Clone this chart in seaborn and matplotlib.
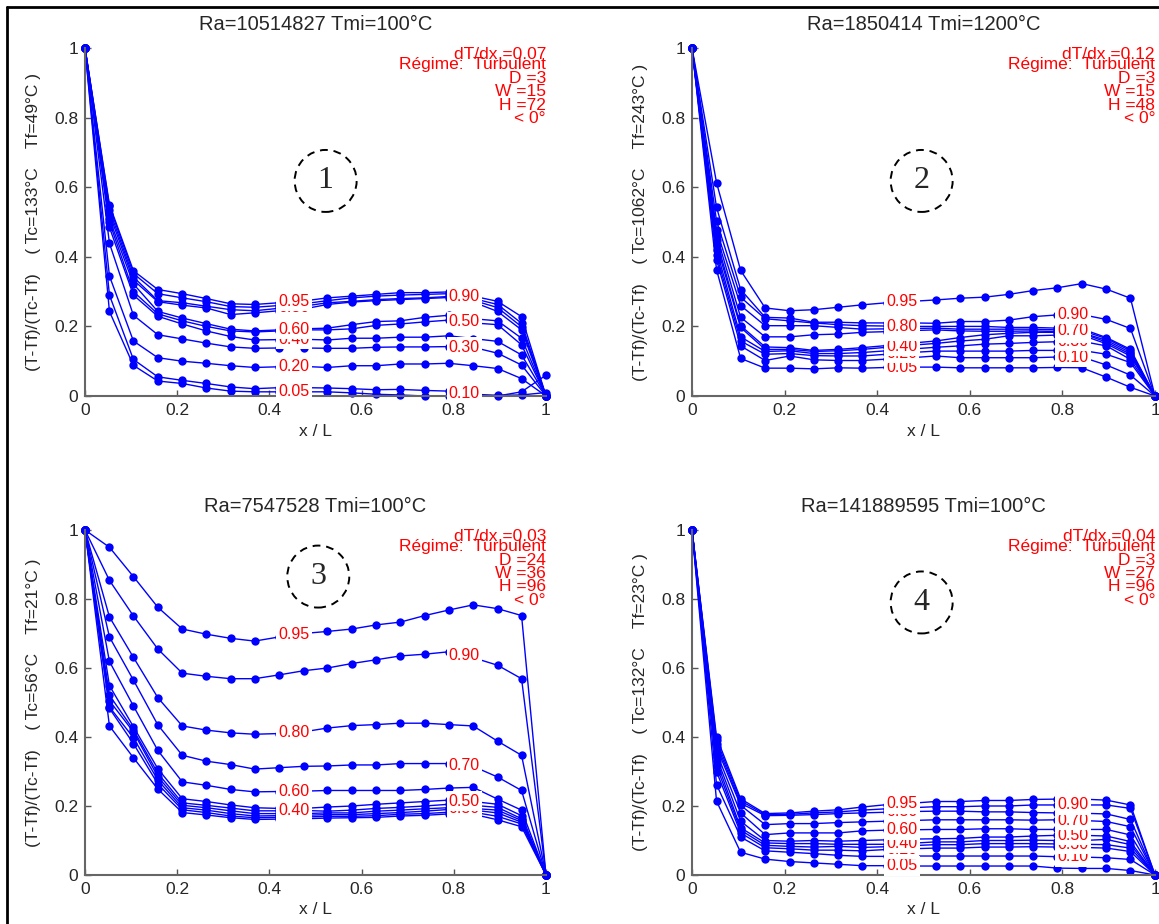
import matplotlib
matplotlib.use("Agg")
import matplotlib.pyplot as plt
from matplotlib.patches import Ellipse
from matplotlib.lines import Line2D
import numpy as np
import pandas as pd
import seaborn as sns

# x / L positions of the 20 measuring points
x_pos = [0, 0.053, 0.105, 0.158, 0.211, 0.263, 0.316, 0.368, 0.421, 0.474,
         0.526, 0.579, 0.632, 0.684, 0.737, 0.789, 0.842, 0.895, 0.947, 1.0]

# curve levels, listed top curve first (same order as the rows below)
levels = [0.95, 0.90, 0.80, 0.70, 0.60, 0.50, 0.40, 0.30, 0.20, 0.10, 0.05]
left_label_levels = [0.95, 0.80, 0.60, 0.40, 0.20, 0.05]

p1_curves = [
    [1, .550, .360, .306, .294, .280, .265, .263, .268, .273, .282, .287, .292, .297, .297, .299, .287, .272, .228, 0],
    [1, .545, .352, .294, .282, .271, .257, .255, .260, .265, .274, .282, .287, .290, .292, .294, .280, .263, .209, 0],
    [1, .535, .342, .274, .268, .258, .248, .245, .252, .258, .268, .272, .277, .280, .282, .286, .275, .254, .199, 0],
    [1, .524, .333, .271, .261, .253, .234, .239, .245, .250, .263, .270, .274, .277, .280, .283, .270, .243, .190, 0],
    [1, .509, .322, .243, .224, .208, .192, .187, .190, .193, .195, .205, .214, .216, .226, .232, .222, .216, .166, 0],
    [1, .500, .300, .236, .216, .200, .187, .184, .187, .190, .190, .193, .203, .207, .213, .218, .210, .205, .147, 0],
    [1, .485, .290, .229, .207, .187, .171, .161, .162, .163, .161, .166, .166, .169, .169, .173, .165, .157, .118, 0],
    [1, .439, .232, .176, .164, .152, .141, .137, .138, .138, .137, .137, .140, .141, .141, .142, .140, .123, .089, 0],
    [1, .345, .158, .110, .100, .094, .087, .082, .084, .085, .082, .087, .087, .092, .092, .094, .087, .079, .050, 0],
    [1, .290, .105, .055, .045, .036, .026, .021, .024, .024, .023, .021, .018, .019, .016, .014, .005, .002, .003, .010],
    [1, .243, .088, .043, .036, .023, .014, .012, .012, .012, .012, .009, .005, .003, .000, .000, .000, .000, .012, .060],
]

p2_curves = [
    [1, .613, .361, .253, .245, .248, .255, .262, .268, .272, .276, .281, .284, .292, .303, .311, .323, .307, .281, 0],
    [1, .542, .306, .226, .224, .212, .212, .210, .210, .210, .209, .214, .214, .218, .228, .233, .234, .220, .194, 0],
    [1, .503, .284, .222, .216, .210, .205, .202, .201, .200, .200, .200, .200, .197, .197, .195, .193, .168, .134, 0],
    [1, .477, .260, .202, .202, .202, .197, .192, .193, .194, .195, .192, .192, .192, .192, .190, .188, .165, .130, 0],
    [1, .463, .226, .170, .170, .176, .178, .183, .185, .188, .190, .187, .186, .186, .187, .185, .182, .160, .125, 0],
    [1, .448, .202, .141, .139, .131, .134, .139, .145, .152, .158, .168, .176, .180, .183, .183, .180, .155, .120, 0],
    [1, .434, .197, .134, .134, .128, .130, .134, .140, .146, .151, .158, .163, .173, .173, .175, .175, .150, .115, 0],
    [1, .420, .170, .128, .130, .122, .122, .125, .130, .135, .140, .144, .149, .151, .154, .156, .157, .144, .105, 0],
    [1, .405, .158, .120, .122, .116, .115, .115, .120, .125, .129, .129, .129, .129, .131, .131, .131, .120, .096, 0],
    [1, .392, .144, .102, .115, .104, .102, .102, .106, .110, .115, .110, .110, .110, .110, .112, .112, .089, .060, 0],
    [1, .363, .108, .080, .080, .078, .081, .080, .082, .083, .083, .081, .081, .081, .081, .082, .081, .054, .025, 0],
]

p3_curves = [
    [1, .950, .865, .776, .713, .698, .686, .678, .690, .700, .706, .713, .725, .733, .752, .768, .783, .772, .752, 0],
    [1, .854, .751, .655, .585, .576, .569, .569, .580, .592, .600, .613, .624, .635, .640, .647, .630, .608, .569, 0],
    [1, .748, .631, .514, .432, .420, .412, .408, .410, .415, .426, .433, .436, .440, .440, .436, .432, .388, .347, 0],
    [1, .690, .565, .435, .347, .330, .320, .307, .311, .315, .316, .319, .319, .323, .323, .323, .315, .284, .245, 0],
    [1, .619, .490, .361, .270, .260, .248, .241, .242, .243, .245, .245, .245, .245, .248, .252, .254, .220, .188, 0],
    [1, .549, .430, .308, .221, .213, .203, .195, .193, .193, .197, .200, .205, .209, .213, .217, .213, .205, .172, 0],
    [1, .521, .421, .295, .209, .202, .194, .186, .186, .187, .185, .188, .193, .196, .200, .205, .202, .196, .163, 0],
    [1, .505, .415, .285, .202, .195, .186, .178, .178, .178, .180, .180, .185, .188, .192, .195, .193, .188, .158, 0],
    [1, .487, .398, .275, .195, .188, .178, .171, .172, .173, .175, .175, .178, .181, .185, .190, .188, .180, .153, 0],
    [1, .483, .381, .264, .189, .181, .171, .166, .167, .168, .170, .170, .172, .176, .178, .182, .182, .170, .148, 0],
    [1, .432, .340, .249, .181, .174, .166, .161, .162, .163, .165, .166, .167, .171, .173, .177, .176, .160, .140, 0],
]

p4_curves = [
    [1, .400, .221, .178, .180, .185, .189, .197, .204, .208, .213, .213, .216, .216, .219, .220, .220, .217, .203, 0],
    [1, .390, .215, .175, .176, .180, .183, .188, .192, .195, .198, .198, .200, .200, .203, .203, .203, .203, .193, 0],
    [1, .380, .208, .172, .173, .175, .178, .180, .182, .184, .185, .185, .183, .183, .181, .180, .179, .177, .161, 0],
    [1, .370, .202, .146, .149, .149, .152, .154, .156, .158, .160, .160, .160, .160, .159, .160, .158, .155, .140, 0],
    [1, .355, .180, .117, .122, .122, .122, .128, .130, .131, .132, .132, .134, .134, .132, .132, .132, .132, .116, 0],
    [1, .342, .156, .100, .098, .100, .098, .100, .102, .104, .105, .106, .110, .110, .113, .115, .115, .113, .097, 0],
    [1, .330, .137, .093, .091, .091, .089, .089, .089, .092, .096, .096, .100, .100, .101, .100, .100, .103, .088, 0],
    [1, .315, .130, .086, .083, .081, .083, .080, .082, .085, .088, .088, .091, .091, .091, .090, .089, .088, .078, 0],
    [1, .300, .122, .079, .076, .072, .072, .070, .074, .076, .078, .078, .081, .081, .082, .081, .080, .078, .068, 0],
    [1, .262, .110, .070, .066, .062, .057, .054, .054, .055, .055, .055, .055, .055, .055, .053, .052, .050, .045, 0],
    [1, .214, .066, .046, .039, .035, .031, .027, .027, .026, .026, .026, .026, .026, .026, .020, .019, .019, .013, 0],
]

ra_values = [10514827, 1850414, 7547528, 141889595]
tmi_values = [100, 1200, 100, 100]
tc_values = [133, 1062, 56, 132]
tf_values = [49, 243, 21, 23]
dtdx_values = ["0.07", "0.12", "0.03", "0.04"]
d_values = [3, 3, 24, 3]
w_values = [15, 15, 36, 27]
h_values = [72, 48, 96, 96]
panel_numbers = ["1", "2", "3", "4"]
ticks = [0, 0.2, 0.4, 0.6, 0.8, 1]
tick_labels = ["0", "0.2", "0.4", "0.6", "0.8", "1"]

all_curves = [p1_curves, p2_curves, p3_curves, p4_curves]

sns.set_style("ticks")
plt.rcParams["font.family"] = ["Liberation Sans", "DejaVu Sans"]

W, H = 1159, 924
fig = plt.figure(figsize=(W / 100, H / 100), dpi=100)

# axes boxes in pixels: left, top, width, height
boxes = [(85, 48, 461, 348), (692, 48, 463, 348),
         (85, 530, 461, 345), (692, 530, 463, 345)]
circle_pos = [(0.522, 0.618), (0.496, 0.618), (0.506, 0.865), (0.496, 0.79)]
red_y = [0.982, 0.953, 0.913, 0.874, 0.836, 0.797]

for i in range(4):
    l, t, w, h = boxes[i]
    ax = fig.add_axes([l / W, 1 - (t + h) / H, w / W, h / H])

    # long-form table for seaborn
    rows = []
    for lvl, curve in zip(levels, all_curves[i]):
        for xv, yv in zip(x_pos, curve):
            rows.append({"x": xv, "v": yv, "level": f"{lvl:.2f}"})
    df = pd.DataFrame(rows)

    sns.lineplot(data=df, x="x", y="v", hue="level",
                 palette={f"{lvl:.2f}": "#0000ff" for lvl in levels},
                 estimator=None, sort=False, legend=False, ax=ax,
                 marker="o", markersize=6, markeredgewidth=0,
                 linewidth=1, clip_on=False)

    # curve labels with white boxes, lowest level first
    for lvl, curve in reversed(list(zip(levels, all_curves[i]))):
        lx = 0.453 if lvl in left_label_levels else 0.823
        ly = np.interp(lx, x_pos, curve)
        ax.text(lx, ly, f"{lvl:.2f}", color="red", fontsize=11.5,
                ha="center", va="center", zorder=5,
                bbox=dict(facecolor="white", edgecolor="none", pad=1.6))

    ax.set_xlim(0, 1)
    ax.set_ylim(0, 1)
    ax.set_xticks(ticks)
    ax.set_xticklabels(tick_labels)
    ax.set_yticks(ticks)
    ax.set_yticklabels(tick_labels)
    ax.tick_params(direction="in", length=4, width=1, color="#555555",
                   labelsize=12.5, pad=5)
    sns.despine(ax=ax)
    for s in ["left", "bottom"]:
        ax.spines[s].set_color("#666666")
        ax.spines[s].set_linewidth(1.5)

    ax.set_title(f"Ra={ra_values[i]} Tmi={tmi_values[i]}°C", fontsize=14.5, pad=13)
    ax.set_xlabel("x / L", fontsize=12.5, labelpad=4)
    ax.set_ylabel(f"(T-Tf)/(Tc-Tf)    ( Tc={tc_values[i]}°C    Tf={tf_values[i]}°C )",
                  fontsize=12.5, labelpad=9)

    info = [f"dT/dx ={dtdx_values[i]}",
            "Régime:  Turbulent",
            f"D ={d_values[i]}",
            f"W ={w_values[i]}",
            f"H ={h_values[i]}",
            "< 0°"]
    for txt, yy in zip(info, red_y):
        ax.text(1.0, yy, txt, transform=ax.transAxes, color="red",
                fontsize=12.5, ha="right", va="center", zorder=6)

    cx, cy = circle_pos[i]
    ax.add_patch(Ellipse((cx, cy), width=62 / w, height=62 / h,
                         transform=ax.transAxes, fill=False, edgecolor="black",
                         linestyle=(0, (4, 3)), linewidth=1.4, zorder=6))
    ax.text(cx, cy, panel_numbers[i], transform=ax.transAxes,
            family=["Liberation Serif", "DejaVu Serif"], fontsize=23,
            ha="center", va="center", zorder=6)

# frame left over from the original page
fig.add_artist(Line2D([7 / W, 1], [1 - 7 / H, 1 - 7 / H], color="black", lw=2))
fig.add_artist(Line2D([7 / W, 7 / W], [0, 1 - 7 / H], color="black", lw=2))

fig.savefig("out.png", dpi=100)
